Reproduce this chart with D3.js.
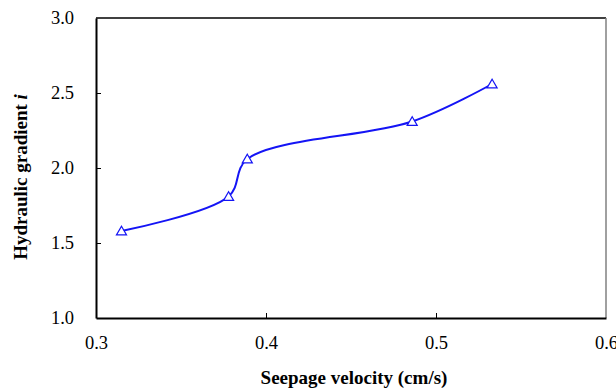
<!DOCTYPE html>
<html>
<head>
<meta charset="utf-8">
<script src="https://cdn.jsdelivr.net/npm/d3@7"></script>
<style>
  body { margin: 0; background: #fff; }
</style>
</head>
<body>
<div id="chart"></div>
<script>
// data
var velocity = [0.315, 0.378, 0.389, 0.486, 0.533];
var gradient = [1.58, 1.81, 2.06, 2.31, 2.56];
var xTicks = [0.3, 0.4, 0.5, 0.6];
var yTicks = [1.0, 1.5, 2.0, 2.5, 3.0];

var W = 616, H = 391;
var margin = {top: 18, right: 10, bottom: 73, left: 96};
var width = W - margin.left - margin.right,   // 510
    height = H - margin.top - margin.bottom;  // 300

var svg = d3.select('#chart').append('svg')
    .attr('width', W)
    .attr('height', H)
    .style('font-family', "'Liberation Serif'");

var g = svg.append('g')
    .attr('transform', 'translate(' + margin.left + ',' + margin.top + ')');

var x = d3.scaleLinear().domain([0.3, 0.6]).range([0, width]);
var y = d3.scaleLinear().domain([1.0, 3.0]).range([height, 0]);

// plot frame (top/right)
g.append('line').attr('x1', 0).attr('x2', width).attr('y1', 0).attr('y2', 0)
    .attr('stroke', '#000').attr('stroke-width', 1.5);
g.append('line').attr('x1', width).attr('x2', width).attr('y1', 0).attr('y2', height)
    .attr('stroke', '#808080').attr('stroke-width', 1.5);

// axes, ticks inside like excel
var xAxis = d3.axisBottom(x).tickValues(xTicks).tickSizeInner(-5).tickSizeOuter(0)
    .tickFormat(d3.format('.1f')).tickPadding(18);
var yAxis = d3.axisLeft(y).tickValues(yTicks).tickSizeInner(-5).tickSizeOuter(0)
    .tickFormat(d3.format('.1f')).tickPadding(22);

var gx = g.append('g').attr('transform', 'translate(0,' + height + ')').call(xAxis);
var gy = g.append('g').call(yAxis);

[gx, gy].forEach(function(a) {
  a.attr('font-family', 'Liberation Serif').attr('font-size', 18.5);
  a.select('.domain').attr('stroke', '#000').attr('stroke-width', 2);
  a.selectAll('.tick line').attr('stroke', '#000').attr('stroke-width', 1);
  a.selectAll('.tick text').attr('fill', '#000');
});
gx.selectAll('.tick line').filter(function(d) { return d === 0.3 || d === 0.6; }).remove();
gy.selectAll('.tick line').filter(function(d) { return d === 1.0 || d === 3.0; }).remove();

// smoothed line
var pts = velocity.map(function(v, i) { return [v, gradient[i]]; });
var line = d3.line()
    .x(function(d) { return x(d[0]); })
    .y(function(d) { return y(d[1]); })
    .curve(d3.curveCatmullRom.alpha(0.5));

g.append('path')
    .datum(pts)
    .attr('fill', 'none')
    .attr('stroke', '#1414f5')
    .attr('stroke-width', 2)
    .attr('d', line);

// triangle markers
var tri = d3.symbol().type(d3.symbolTriangle).size(44);
g.selectAll('.pt')
    .data(pts)
    .enter().append('path')
    .attr('class', 'pt')
    .attr('transform', function(d) { return 'translate(' + x(d[0]) + ',' + (y(d[1]) + 1) + ')'; })
    .attr('d', tri)
    .attr('fill', '#fff')
    .attr('stroke', '#1414f5')
    .attr('stroke-width', 1.2);

// axis titles
svg.append('text')
    .attr('x', 354)
    .attr('y', 384)
    .attr('text-anchor', 'middle')
    .attr('font-family', 'Liberation Serif')
    .attr('font-size', 19)
    .attr('font-weight', 'bold')
    .text('Seepage velocity (cm/s)');

var yt = svg.append('text')
    .attr('transform', 'translate(27,' + 177 + ') rotate(-90)')
    .attr('text-anchor', 'middle')
    .attr('font-family', 'Liberation Serif')
    .attr('font-size', 19)
    .attr('font-weight', 'bold');
yt.append('tspan').text('Hydraulic gradient ');
yt.append('tspan').attr('font-style', 'italic').text('i');
</script>
</body>
</html>
